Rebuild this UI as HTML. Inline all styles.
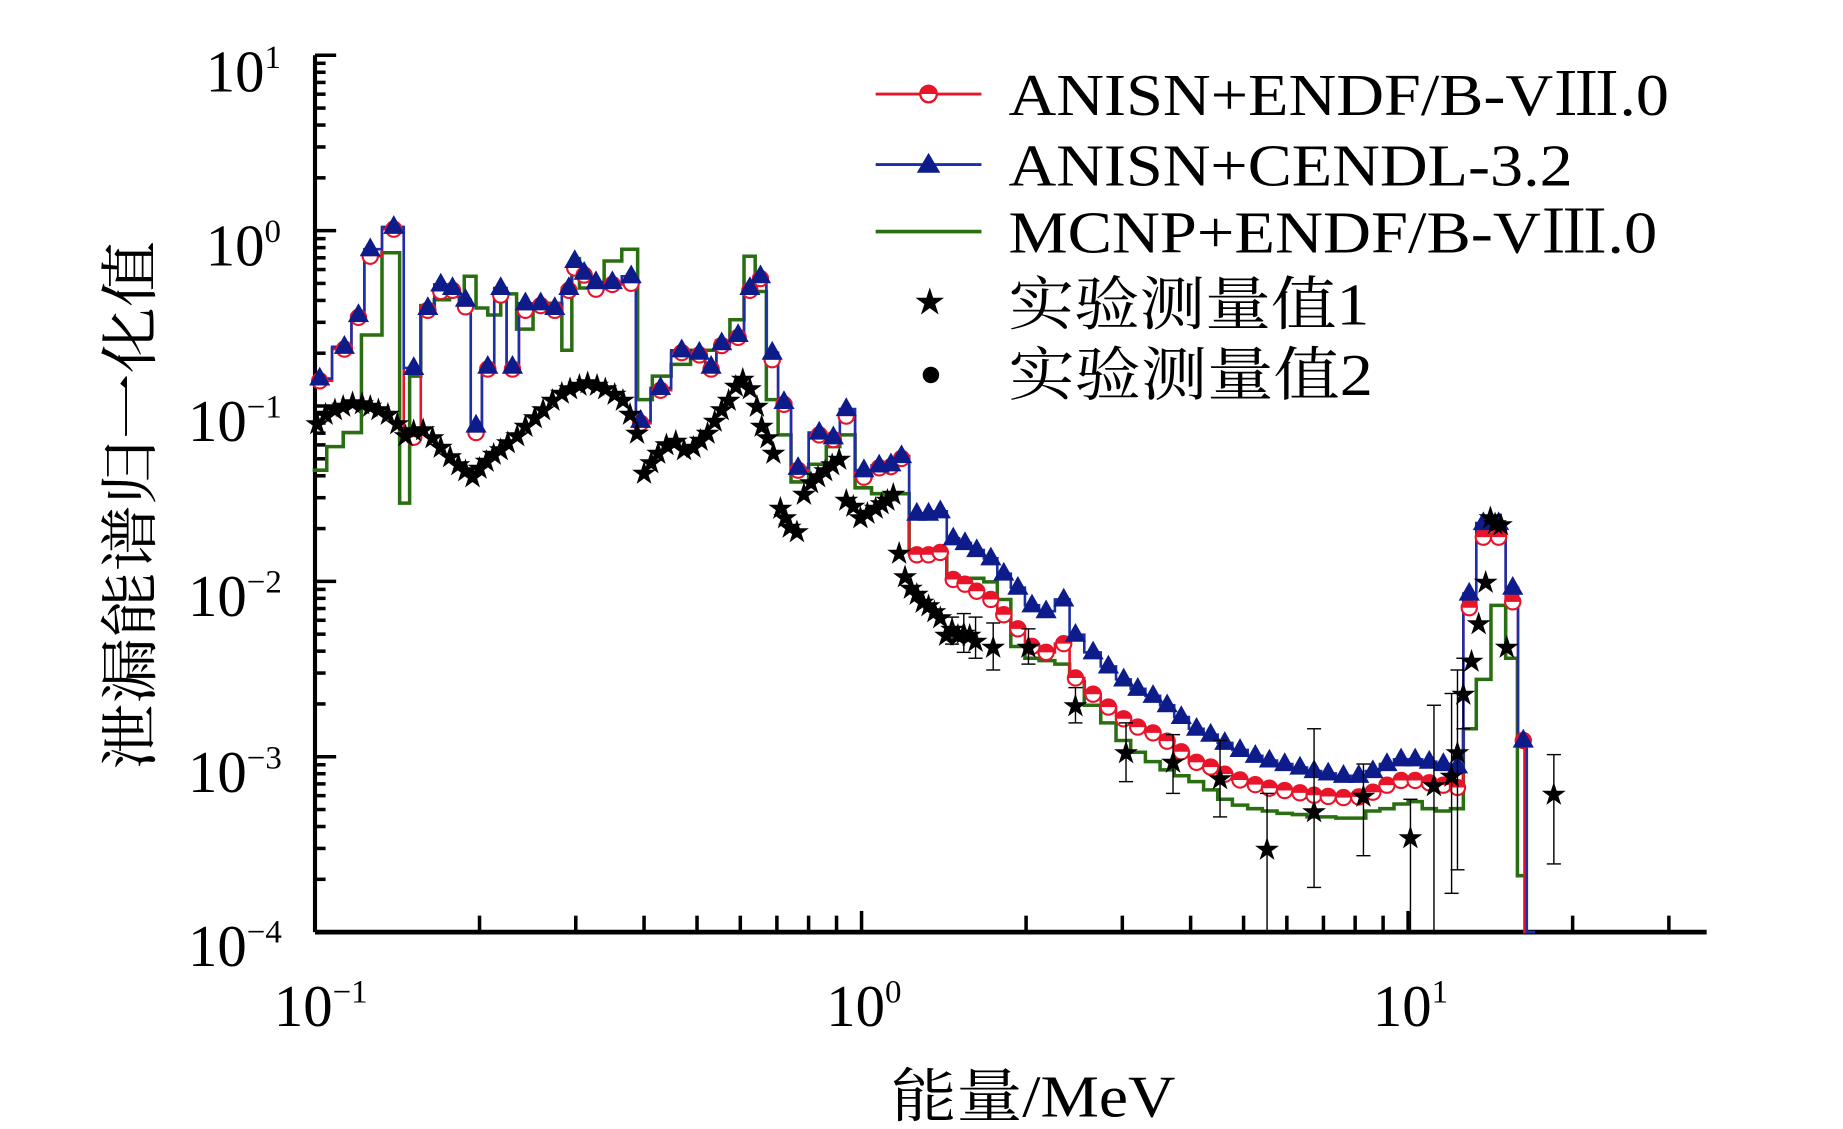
<!DOCTYPE html>
<html><head><meta charset="utf-8"><style>
html,body{margin:0;padding:0;background:#fff;}
svg{display:block;}
text{font-family:"Liberation Serif","Noto Serif CJK SC",serif;fill:#000;}
</style></head><body>
<svg id="s" width="1843" height="1129" viewBox="0 0 1568 960.5" xmlns="http://www.w3.org/2000/svg">
<rect width="1568" height="960.5" fill="#fff"/>
<g id="ax"></g>
<g id="data"></g>
<!-- y tick labels -->
<g font-size="50">
<text x="175" y="78">10<tspan font-size="28" dy="-20">1</tspan></text>
<text x="175" y="226">10<tspan font-size="28" dy="-20">0</tspan></text>
<text x="160" y="375">10<tspan font-size="28" dy="-20">−1</tspan></text>
<text x="160" y="524">10<tspan font-size="28" dy="-20">−2</tspan></text>
<text x="160" y="674">10<tspan font-size="28" dy="-20">−3</tspan></text>
<text x="160" y="822">10<tspan font-size="28" dy="-20">−4</tspan></text>
<text x="233" y="873">10<tspan font-size="28" dy="-20">−1</tspan></text>
<text x="703" y="873">10<tspan font-size="28" dy="-20">0</tspan></text>
<text x="1168" y="873">10<tspan font-size="28" dy="-20">1</tspan></text>
</g>
<text x="758" y="950" font-size="50" textLength="242" lengthAdjust="spacingAndGlyphs">能量/MeV</text>
<text transform="translate(128,430) rotate(-90)" font-size="50" text-anchor="middle" textLength="450" lengthAdjust="spacingAndGlyphs">泄漏能谱归一化值</text>
<!-- legend -->
<g font-size="50">
<line x1="745" y1="80" x2="835" y2="80" stroke="#e8142a" stroke-width="2.5"/>
<circle cx="790" cy="80" r="7" fill="#fff" stroke="#e8142a" stroke-width="2"/>
<path d="M783 80 A7 7 0 0 1 797 80Z" fill="#e8142a"/>
<text x="858" y="98" textLength="562" lengthAdjust="spacingAndGlyphs">ANISN+ENDF/B-VⅢ.0</text>
<line x1="745" y1="140" x2="835" y2="140" stroke="#1a2fa8" stroke-width="2.5"/>
<path d="M790 130 L800 147 L780 147Z" fill="#0d1c8a"/>
<text x="858" y="158" textLength="480" lengthAdjust="spacingAndGlyphs">ANISN+CENDL-3.2</text>
<line x1="745" y1="197" x2="835" y2="197" stroke="#2a6e12" stroke-width="3"/>
<text x="858" y="215" textLength="552" lengthAdjust="spacingAndGlyphs">MCNP+ENDF/B-VⅢ.0</text>
<text x="778" y="266" font-size="26">★</text>
<text x="858" y="276" textLength="307" lengthAdjust="spacingAndGlyphs">实验测量值1</text>
<circle cx="792" cy="319" r="7" fill="#000"/>
<text x="858" y="336" textLength="310" lengthAdjust="spacingAndGlyphs">实验测量值2</text>
</g>
</svg>
<script>
var NS="http://www.w3.org/2000/svg";
function el(p,t,a){var e=document.createElementNS(NS,t);for(var k in a)e.setAttribute(k,a[k]);p.appendChild(e);return e;}
var ax=document.getElementById('ax'),dg=document.getElementById('data');
var L=268,B=793,R=1452,T=47,XD=465,YD=149.2;
el(ax,'line',{x1:L,y1:T,x2:L,y2:B,stroke:'#000','stroke-width':3.5});
el(ax,'line',{x1:L,y1:B,x2:R,y2:B,stroke:'#000','stroke-width':4});
for(var d=0;d<5;d++){for(var m=1;m<10;m++){var y=B-YD*(d+Math.log10(m));var len=m==1?18:9;if(d==0&&m==1)continue;el(ax,'line',{x1:L,y1:y,x2:L+len,y2:y,stroke:'#000','stroke-width':3});}}
el(ax,'line',{x1:L,y1:T,x2:L+18,y2:T,stroke:'#000','stroke-width':3});
for(var d=0;d<3;d++){for(var m=1;m<10;m++){var x=L+XD*(d+Math.log10(m));if(x>R)break;if(d==0&&m==1)continue;var len=m==1?18:14;el(ax,'line',{x1:x,y1:B,x2:x,y2:B-len,stroke:'#000','stroke-width':3});}}
function step(pts,col,w){var d='';for(var i=0;i<pts.length;i++){var x0=i==0?pts[0][0]-6:(pts[i-1][0]+pts[i][0])/2;var x1=i==pts.length-1?pts[i][0]+4:(pts[i][0]+pts[i+1][0])/2;d+=(i==0?'M':'L')+x0+' '+pts[i][1]+' L'+x1+' '+pts[i][1]+' ';}el(dg,'path',{d:d,fill:'none',stroke:col,'stroke-width':w});}
var blue=[[272,322],[293,295],[305,268],[315,212],[335,193],[352,313],[364,262],[375,242],[385,245],[396,255],[405,362],[415,312],[426,245],[436,312],[447,258],[460,258],[472,262],[484,245],[489,222],[497,232],[507,240],[521,240],[537,235],[545,358],[562,330],[580,298],[595,300],[605,312],[614,292],[628,285],[638,245],[647,235],[657,300],[667,342],[679,398],[697,368],[709,372],[720,348],[735,400],[748,396],[758,395],[767,388],[780,437],[790,437],[800,435],[811,458],[821,462],[831,468],[843,475],[854,488],[866,500],[878,515],[890,520],[905,510],[915,540],[930,555],[943,567],[956,578],[968,586],[981,592],[993,600],[1005,610],[1018,620],[1030,625],[1042,632],[1055,638],[1068,643],[1080,647],[1093,650],[1106,653],[1118,656],[1130,658],[1143,660],[1156,660],[1168,656],[1180,650],[1192,646],[1204,646],[1216,648],[1228,650],[1240,652],[1250,505],[1262,445],[1275,445],[1287,500],[1296,630],[1302,793]];
var red=blue.map(function(p){var x=p[0],y=p[1];if(x>=770&&x<1250){var k=x<900?35:(x<1150?38-(x-900)*0.08:18);y+=k;}else if(x<770){y+=(x%3==0?6:2);}else if(x>=1250&&x<1296){y+=12;}return [x,y];});
red[5]=[352,372];
red[red.length-1]=[1298,793];
var green=[[272,400],[284,380],[300,368],[315,285],[335,215],[345,428],[352,320],[364,260],[375,255],[390,252],[400,235],[410,262],[420,268],[432,250],[447,280],[460,262],[472,258],[484,298],[489,220],[497,245],[507,242],[521,222],[537,212],[548,340],[562,320],[580,310],[595,298],[605,298],[614,290],[628,272],[638,218],[647,248],[657,340],[667,370],[679,410],[697,395],[709,380],[720,370],[735,415],[748,420],[758,425],[767,420],[780,470],[790,470],[800,470],[811,490],[821,492],[831,492],[843,495],[854,510],[866,550],[878,560],[890,562],[905,565],[915,580],[930,600],[943,615],[956,630],[968,640],[981,648],[993,655],[1005,660],[1018,665],[1030,672],[1042,680],[1055,685],[1068,688],[1080,690],[1093,692],[1106,693],[1118,695],[1130,695],[1143,696],[1156,696],[1168,690],[1180,688],[1192,684],[1204,682],[1216,688],[1228,690],[1240,688],[1250,620],[1262,578],[1275,515],[1287,560],[1295,745]];
step(green,'#2a6e12',3);
step(red,'#e8142a',2.2);
step(blue,'#1a2fa8',2.2);
red.forEach(function(p,i){if(p[1]>=790)return;if(p[0]>1240&&p[0]<1250)return;el(dg,'circle',{cx:p[0],cy:p[1],r:6.5,fill:'#fff',stroke:'#e8142a','stroke-width':1.8});el(dg,'path',{d:'M'+(p[0]-6.5)+' '+p[1]+' A6.5 6.5 0 0 1 '+(p[0]+6.5)+' '+p[1]+'Z',fill:'#e8142a'});});
blue.forEach(function(p){if(p[1]>=790)return;el(dg,'path',{d:'M'+p[0]+' '+(p[1]-10)+' L'+(p[0]+9)+' '+(p[1]+6)+' L'+(p[0]-9)+' '+(p[1]+6)+'Z',fill:'#0d1c8a'});});
var stars=[[270,360],[277,352],[285,348],[292,345],[300,342],[308,343],[315,345],[322,348],[330,352],[338,360],[345,370],[352,366],[360,365],[368,372],[375,380],[383,388],[390,395],[396,400],[402,405],[408,398],[414,392],[420,386],[426,382],[432,376],[440,370],[447,362],[455,355],[462,348],[470,340],[478,334],[485,330],[493,327],[500,325],[508,327],[515,330],[523,335],[530,340],[536,352],[542,368],[548,402],[554,393],[560,385],[567,378],[575,375],[582,382],[590,380],[596,374],[602,368],[608,358],[614,348],[620,340],[626,328],[632,322],[638,330],[644,345],[648,362],[653,372],[658,385],[664,432],[668,440],[672,448],[678,452],[684,420],[690,410],[696,405],[702,400],[708,395],[714,390],[720,425],[726,430],[732,440],[738,436],[745,432],[750,428],[755,425],[760,420],[765,470],[770,490],[775,500],[780,505],[785,512],[790,515],[795,520],[800,525],[805,540],[810,535],[815,540],[820,538],[825,540],[830,545],[845,550],[875,550],[915,600],[958,640],[998,648],[1038,662],[1078,722],[1118,690],[1160,677],[1200,712],[1220,668],[1235,660],[1240,640],[1245,590],[1252,562],[1258,530],[1264,495],[1268,440],[1272,445],[1277,446],[1282,550],[1322,675]];
var eb={845:[530,570],875:[535,565],915:[585,615],958:[615,665],998:[625,675],1038:[630,695],1078:[675,793],1118:[620,755],1160:[650,728],1200:[680,793],1220:[600,793],1235:[590,760],1240:[570,740],1245:[560,620],1322:[642,735],810:[525,548],820:[522,555],830:[525,560]};
stars.forEach(function(p){var e=eb[p[0]];if(e){el(dg,'line',{x1:p[0],y1:e[0],x2:p[0],y2:e[1],stroke:'#000','stroke-width':1.2});el(dg,'line',{x1:p[0]-6,y1:e[0],x2:p[0]+6,y2:e[0],stroke:'#000','stroke-width':1.2});if(e[1]<790)el(dg,'line',{x1:p[0]-6,y1:e[1],x2:p[0]+6,y2:e[1],stroke:'#000','stroke-width':1.2});}
var t=el(dg,'text',{x:p[0],y:p[1]+8,'font-size':22,'text-anchor':'middle'});t.textContent='★';});
</script>
</body></html>
